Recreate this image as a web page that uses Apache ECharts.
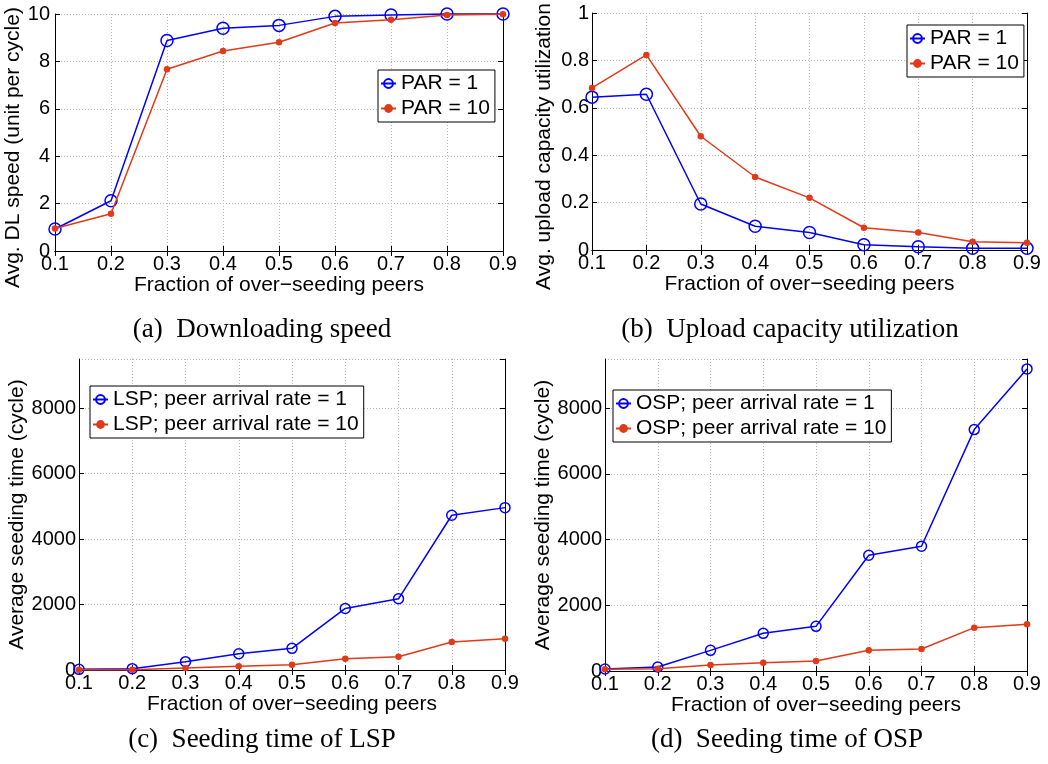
<!DOCTYPE html>
<html>
<head>
<meta charset="utf-8">
<script src="https://cdn.jsdelivr.net/npm/echarts@6/dist/echarts.min.js"></script>
<style>
html,body{margin:0;padding:0;background:#fff;}
#chart{width:1048px;height:764px;}
</style>
</head>
<body>
<div id="chart"></div>
<script>
// ---- data ----
var xLabels = ['0.1', '0.2', '0.3', '0.4', '0.5', '0.6', '0.7', '0.8', '0.9'];
var dlPar1 = [0.93, 2.12, 8.88, 9.40, 9.52, 9.90, 9.96, 10.0, 10.0];
var dlPar10 = [0.95, 1.57, 7.67, 8.44, 8.81, 9.62, 9.76, 9.96, 9.99];
var upPar1 = [0.645, 0.657, 0.194, 0.100, 0.074, 0.022, 0.014, 0.007, 0.007];
var upPar10 = [0.684, 0.823, 0.480, 0.308, 0.220, 0.094, 0.074, 0.035, 0.031];
var lspRate1 = [20, 40, 254, 498, 661, 1880, 2175, 4727, 4960];
var lspRate10 = [10, 10, 61, 112, 163, 346, 407, 854, 955];
var ospRate1 = [61, 122, 629, 1147, 1360, 3523, 3797, 7350, 9198];
var ospRate10 = [51, 71, 183, 254, 305, 629, 670, 1320, 1421];
var seriesNamesAB = ['PAR = 1', 'PAR = 10'];
var seriesNamesC = ['LSP; peer arrival rate = 1', 'LSP; peer arrival rate = 10'];
var seriesNamesD = ['OSP; peer arrival rate = 1', 'OSP; peer arrival rate = 10'];
var xTitle = 'Fraction of over\u2212seeding peers';
var yTitles = ['Avg. DL speed (unit per cycle)', 'Avg. upload capacity utilization', 'Average seeding time (cycle)', 'Average seeding time (cycle)'];
var captions = ['(a)  Downloading speed', '(b)  Upload capacity utilization', '(c)  Seeding time of LSP', '(d)  Seeding time of OSP'];
var yRanges = [[0, 10, 2], [0, 1, 0.2], [0, 9500, 2000], [0, 9500, 2000]];

// ---- styling / layout ----
var BLUE = '#0000ff', RED = '#e03a18';
var FONT = '"Liberation Sans", Arial, Helvetica, sans-serif';
var grids = [
  {left: 55, top: 14, width: 448, height: 237},
  {left: 592, top: 13, width: 435, height: 237},
  {left: 79, top: 359, width: 426, height: 311},
  {left: 605, top: 359, width: 422, height: 312}
];
var yNameGap = [26, 37, 50, 50];
var yNamePad = [[0, 30, 0, 0], [0, 30, 0, 0], [0, 0, 0, 0], [0, 0, 0, 0]];
var yLabelMargin = [5, 3, 3, 3];
var circleSize = [12, 12, 10, 10];

var xAxes = [], yAxes = [];
grids.forEach(function (g, i) {
  xAxes.push({
    gridIndex: i, type: 'category', data: xLabels, boundaryGap: false, position: 'bottom',
    name: xTitle, nameLocation: 'middle', nameGap: 22,
    nameTextStyle: {fontFamily: FONT, fontSize: 21, color: '#000'},
    axisLine: {show: true, lineStyle: {color: '#000', width: 1}},
    axisTick: {show: true, inside: true, length: 5, lineStyle: {color: '#000'}},
    axisLabel: {fontFamily: FONT, fontSize: 20, color: '#000', margin: 3},
    splitLine: {show: true, lineStyle: {color: '#b4b4b4', type: [1, 2], width: 1}}
  });
  xAxes.push({
    gridIndex: i, type: 'category', data: xLabels, boundaryGap: false, position: 'top',
    axisLine: {show: true, lineStyle: {color: '#000', width: 1}},
    axisTick: {show: true, inside: true, length: 5, lineStyle: {color: '#000'}},
    axisLabel: {show: false}, splitLine: {show: false}
  });
  var r = yRanges[i];
  yAxes.push({
    gridIndex: i, type: 'value', min: r[0], max: r[1], interval: r[2], position: 'left',
    name: yTitles[i], nameLocation: 'middle', nameGap: yNameGap[i],
    nameTextStyle: {fontFamily: FONT, fontSize: 21, color: '#000', padding: yNamePad[i]},
    axisLine: {show: true, lineStyle: {color: '#000', width: 1}},
    axisTick: {show: true, inside: true, length: 5, lineStyle: {color: '#000'}},
    axisLabel: {
      fontFamily: FONT, fontSize: 20, color: '#000', margin: yLabelMargin[i], showMaxLabel: i < 2,
      formatter: function (v) { return String(+v.toFixed(4)); }
    },
    splitLine: {show: true, lineStyle: {color: '#b4b4b4', type: [1, 2], width: 1}}
  });
  yAxes.push({
    gridIndex: i, type: 'value', min: r[0], max: r[1], interval: r[2], position: 'right',
    axisLine: {show: true, lineStyle: {color: '#000', width: 1}},
    axisTick: {show: true, inside: true, length: 5, lineStyle: {color: '#000'}},
    axisLabel: {show: false}, splitLine: {show: false}
  });
});

function blueSeries(name, data, gi) {
  return {
    name: name, type: 'line', data: data, xAxisIndex: 2 * gi, yAxisIndex: 2 * gi,
    symbol: 'circle', symbolSize: circleSize[gi], clip: false, animation: false,
    lineStyle: {color: BLUE, width: 1.5},
    itemStyle: {color: 'rgba(255,255,255,0)', borderColor: BLUE, borderWidth: 1.5},
    emphasis: {disabled: true}, z: 3
  };
}
function redSeries(name, data, gi) {
  return {
    name: name, type: 'line', data: data, xAxisIndex: 2 * gi, yAxisIndex: 2 * gi,
    symbol: 'circle', symbolSize: 6.5, clip: false, animation: false,
    lineStyle: {color: RED, width: 1.5},
    itemStyle: {color: RED, borderColor: RED, borderWidth: 0},
    emphasis: {disabled: true}, z: 4
  };
}

var series = [
  blueSeries(seriesNamesAB[0], dlPar1, 0), redSeries(seriesNamesAB[1], dlPar10, 0),
  blueSeries(seriesNamesAB[0], upPar1, 1), redSeries(seriesNamesAB[1], upPar10, 1),
  blueSeries(seriesNamesC[0], lspRate1, 2), redSeries(seriesNamesC[1], lspRate10, 2),
  blueSeries(seriesNamesD[0], ospRate1, 3), redSeries(seriesNamesD[1], ospRate10, 3)
];

function legend(names, left, top) {
  return {
    data: names, left: left, top: top, orient: 'vertical',
    itemWidth: 15, itemHeight: 11, itemGap: 4,
    padding: [3, 5, 3, 2], borderColor: '#000', borderWidth: 1, backgroundColor: '#fff',
    textStyle: {fontFamily: FONT, fontSize: 21, color: '#000'},
    selectedMode: false
  };
}

var graphics = [];
var capPos = [[262, 330], [790, 330], [262, 740], [787, 740]];
captions.forEach(function (c, i) {
  graphics.push({
    type: 'text', x: capPos[i][0], y: capPos[i][1],
    style: {text: c, fontFamily: '"Liberation Serif", "Times New Roman", serif', fontSize: 27, fill: '#000', textAlign: 'center', textVerticalAlign: 'middle'}
  });
});

var chart = echarts.init(document.getElementById('chart'), null, {renderer: 'canvas'});
chart.setOption({
  animation: false,
  backgroundColor: '#fff',
  grid: grids.map(function (g) { return Object.assign({containLabel: false}, g); }),
  xAxis: xAxes,
  yAxis: yAxes,
  legend: [
    legend(seriesNamesAB, 378, 70),
    legend(seriesNamesAB, 907, 25),
    legend(seriesNamesC, 90, 386),
    legend(seriesNamesD, 613, 390)
  ],
  graphic: graphics,
  series: series
});
</script>
</body>
</html>
